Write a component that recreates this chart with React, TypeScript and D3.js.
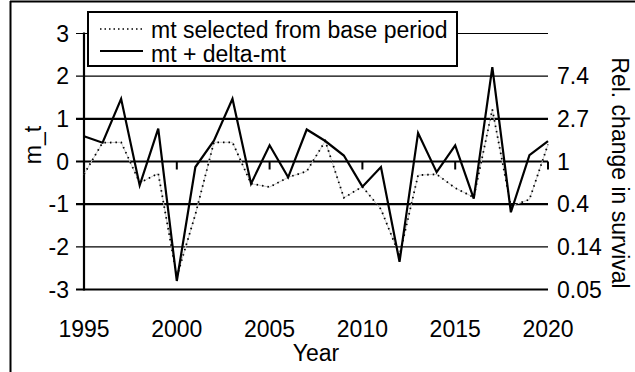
import React from "react";
import * as d3 from "d3";

const years = d3.range(1995, 2021);
const solidValues = [0.59, 0.44, 1.47, -0.56, 0.77, -2.8, -0.13, 0.49, 1.47, -0.52, 0.38, -0.37, 0.75, 0.48, 0.14, -0.59, -0.13, -2.35, 0.67, -0.25, 0.38, -0.87, 2.21, -1.19, 0.15, 0.48];
const dottedValues = [-0.3, 0.44, 0.45, -0.5, -0.28, -2.7, -1.24, 0.45, 0.45, -0.52, -0.6, -0.37, -0.23, 0.48, -0.85, -0.59, -1.12, -2.2, -0.32, -0.3, -0.62, -0.84, 1.22, -1.05, -0.89, 0.4];
const leftTicks = [3, 2, 1, 0, -1, -2, -3];
const thickTicks = [1, 0, -1, -3];
const rightTickValues = [2, 1, 0, -1, -2, -3];
const rightTickLabels = ["7.4", "2.7", "1", "0.4", "0.14", "0.05"];
const xTicks = [1995, 2000, 2005, 2010, 2015, 2020];
const legendLabels = ["mt selected from base period", "mt + delta-mt"];

const FONT = "'Liberation Sans', Arial, sans-serif";
const FS = 23;

export default function App() {
  const x = d3.scaleLinear().domain([1995, 2020]).range([84, 548]);
  const y = d3.scaleLinear().domain([-3, 3]).range([289.5, 33.5]);
  const line = d3
    .line<number>()
    .x((_, i) => x(years[i]))
    .y((d) => y(d));
  const solidPath = line(solidValues) || "";
  const dottedPath = line(dottedValues) || "";

  return (
    <svg
      width={635}
      height={372}
      style={{ position: "absolute", left: 0, top: 0, background: "#fff" }}
      fontFamily={FONT}
    >
      <rect x={0} y={0} width={635} height={372} fill="#fff" />
      {/* outer frame */}
      <line x1={10} y1={1.5} x2={635} y2={1.5} stroke="#000" strokeWidth={2} />
      <line x1={10.5} y1={1} x2={10.5} y2={372} stroke="#000" strokeWidth={2} />

      {/* gridlines */}
      {leftTicks.map((t) => (
        <line
          key={"g" + t}
          x1={76}
          x2={548}
          y1={y(t)}
          y2={y(t)}
          stroke="#000"
          strokeWidth={thickTicks.includes(t) ? 2.2 : 1.2}
        />
      ))}
      {/* left axis */}
      <line x1={84} x2={84} y1={y(3) - 1} y2={y(-3) + 1} stroke="#000" strokeWidth={2.2} />
      {/* x ticks at zero line */}
      {xTicks.slice(1).map((t) => (
        <line key={"xt" + t} x1={x(t)} x2={x(t)} y1={y(0)} y2={y(0) + 8} stroke="#000" strokeWidth={2} />
      ))}

      {/* left tick labels */}
      {leftTicks.map((t) => (
        <text key={"l" + t} x={69} y={y(t)} dy="0.35em" textAnchor="end" fontSize={FS}>
          {t}
        </text>
      ))}
      {/* right tick labels */}
      {rightTickValues.map((t, i) => (
        <text key={"r" + t} x={557} y={y(t)} dy="0.35em" textAnchor="start" fontSize={FS}>
          {rightTickLabels[i]}
        </text>
      ))}
      {/* x tick labels */}
      {xTicks.map((t) => (
        <text key={"x" + t} x={x(t)} y={337} textAnchor="middle" fontSize={FS}>
          {t}
        </text>
      ))}
      <text x={316} y={361} textAnchor="middle" fontSize={FS}>
        Year
      </text>
      <text transform="translate(41,145) rotate(-90)" textAnchor="middle" fontSize={FS}>
        m_t
      </text>
      <text transform="translate(612,173) rotate(90)" textAnchor="middle" fontSize={FS}>
        Rel. change in survival
      </text>

      {/* data */}
      <path d={dottedPath} fill="none" stroke="#c8c8c8" strokeWidth={1} />
      <path d={dottedPath} fill="none" stroke="#000" strokeWidth={1.8} strokeDasharray="1.5,4" />
      <path d={solidPath} fill="none" stroke="#000" strokeWidth={2.2} strokeLinejoin="miter" />

      {/* legend */}
      <rect x={88} y={12} width={369} height={54} fill="#fff" stroke="#000" strokeWidth={2} />
      <line x1={100} x2={143} y1={29} y2={29} stroke="#000" strokeWidth={1.5} strokeDasharray="1.5,3" />
      <line x1={100} x2={143} y1={51} y2={51} stroke="#000" strokeWidth={2} />
      <text x={151} y={38} fontSize={FS}>
        {legendLabels[0]}
      </text>
      <text x={151} y={62} fontSize={FS}>
        {legendLabels[1]}
      </text>
    </svg>
  );
}
